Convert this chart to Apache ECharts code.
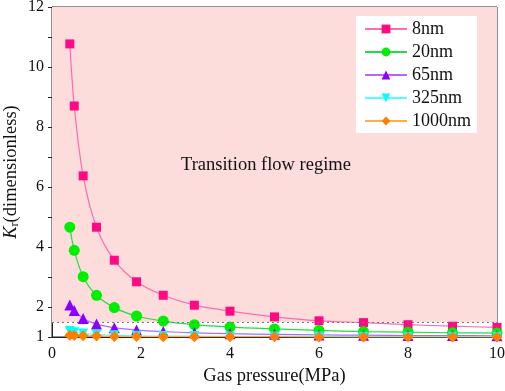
<!DOCTYPE html>
<html>
<head>
<meta charset="utf-8">
<script src="https://cdn.jsdelivr.net/npm/echarts@6/dist/echarts.min.js"></script>
<style>
  html, body { margin: 0; padding: 0; background: #fff; }
  #chart { width: 505px; height: 391px; }
</style>
</head>
<body>
<div id="chart"></div>
<script>
// gas pressure points (MPa)
let pressure = [0.4, 0.5, 0.7, 1, 1.4, 1.9, 2.5, 3.2, 4, 5, 6, 7, 8, 9, 10];

let names = ['8nm', '20nm', '65nm', '325nm', '1000nm'];
let kr8 = [10.77, 8.7, 6.37, 4.66, 3.56, 2.84, 2.39, 2.06, 1.86, 1.67, 1.54, 1.48, 1.41, 1.36, 1.32];
let kr20 = [4.66, 3.89, 3.01, 2.39, 1.98, 1.70, 1.53, 1.41, 1.33, 1.27, 1.22, 1.18, 1.16, 1.14, 1.13];
let kr65 = [2.07, 1.88, 1.62, 1.43, 1.31, 1.23, 1.18, 1.14, 1.11, 1.09, 1.07, 1.06, 1.05, 1.05, 1.04];
let kr325 = [1.2, 1.16, 1.12, 1.08, 1.06, 1.04, 1.03, 1.03, 1.02, 1.02, 1.02, 1.01, 1.01, 1.01, 1.01];
let kr1000 = [1.06, 1.05, 1.04, 1.03, 1.02, 1.02, 1.01, 1.01, 1.01, 1.01, 1.0, 1.0, 1.0, 1.0, 1.0];

let yTickLabels = ['1', '2', '4', '6', '8', '10', '12'];
let regimeLimit = 1.5;

let markerColors = ['#ff0a84', '#00ee00', '#8a00ff', '#00ffff', '#ff7f00'];
let lineColors = ['#ff6ab0', '#22dd44', '#b566ff', '#55ffff', '#ffaa55'];
let symbols = ['rect', 'circle', 'triangle', 'path://M0,0 L10,0 L5,9 Z', 'diamond'];
let symbolSizes = [9, 11, 11, 10, 11];

let allData = [kr8, kr20, kr65, kr325, kr1000];

function makeSeries() {
  let serie = [];
  for (let i = 0; i < names.length; i++) {
    let pts = [];
    for (let j = 0; j < pressure.length; j++) {
      pts.push([pressure[j], allData[i][j]]);
    }
    let item = {
      name: names[i],
      type: 'line',
      data: pts,
      smooth: 0.3,
      symbol: symbols[i],
      symbolSize: symbolSizes[i],
      itemStyle: { color: markerColors[i] },
      lineStyle: { color: lineColors[i], width: 1.2 },
      clip: true,
      z: 3 + i
    };
    if (i === 0) {
      item.markArea = {
        silent: true,
        itemStyle: { color: '#fddcdc' },
        data: [[{ coord: [0, regimeLimit] }, { coord: [10, 12] }]]
      };
      item.markLine = {
        silent: true,
        symbol: 'none',
        label: { show: false },
        lineStyle: { color: '#777', type: [2, 3], width: 1.2 },
        data: [{ yAxis: regimeLimit }]
      };
    }
    serie.push(item);
  }
  return serie;
}

let myChart = echarts.init(document.getElementById('chart'));

let font = 'Liberation Serif';

let option = {
  animation: false,
  textStyle: { fontFamily: font },
  grid: {
    left: 52,
    right: 8,
    top: 7,
    bottom: 54,
    outerBoundsMode: 'none',
    show: true,
    borderColor: '#222',
    borderWidth: 1
  },
  legend: {
    data: names,
    orient: 'vertical',
    right: 28,
    top: 16,
    backgroundColor: '#fff',
    padding: [4, 6, 3, 8],
    itemGap: 5,
    itemWidth: 42,
    itemHeight: 11,
    textStyle: { fontFamily: font, fontSize: 18, color: '#111' }
  },
  xAxis: {
    type: 'value',
    min: 0,
    max: 10,
    interval: 2,
    name: 'Gas pressure(MPa)',
    nameLocation: 'middle',
    nameGap: 30,
    nameTextStyle: { fontFamily: font, fontSize: 18.5, color: '#111' },
    axisLine: { lineStyle: { color: '#222' } },
    axisTick: { show: false },
    splitLine: { show: false },
    axisLabel: { fontFamily: font, fontSize: 16, color: '#111', margin: 9 }
  },
  yAxis: {
    type: 'value',
    min: 1,
    max: 12,
    interval: 1,
    name: '{k|K}{s|r}{t|(dimensionless)}',
    nameLocation: 'middle',
    nameGap: 31,
    nameMoveOverlap: false,
    nameTextStyle: {
      rich: {
        k: { fontFamily: font, fontSize: 18.5, fontStyle: 'italic', color: '#111' },
        s: { fontFamily: font, fontSize: 12, color: '#111', verticalAlign: 'bottom', padding: [8, 0, 0, 0] },
        t: { fontFamily: font, fontSize: 18.5, color: '#111' }
      }
    },
    axisLine: { show: true, lineStyle: { color: '#222' } },
    axisTick: { show: true, length: 4, lineStyle: { color: '#222' } },
    splitLine: { show: false },
    axisLabel: {
      fontFamily: font,
      fontSize: 16,
      color: '#111',
      margin: 8,
      formatter: function (v) {
        let s = String(v);
        return yTickLabels.indexOf(s) >= 0 ? s : '';
      }
    }
  },
  graphic: [
    {
      type: 'text',
      left: 181,
      top: 156,
      style: {
        text: 'Transition flow regime',
        fontFamily: font,
        fontSize: 18.5,
        fill: '#111'
      },
      z: 10
    }
  ],
  series: makeSeries()
};

myChart.setOption(option);
</script>
</body>
</html>
